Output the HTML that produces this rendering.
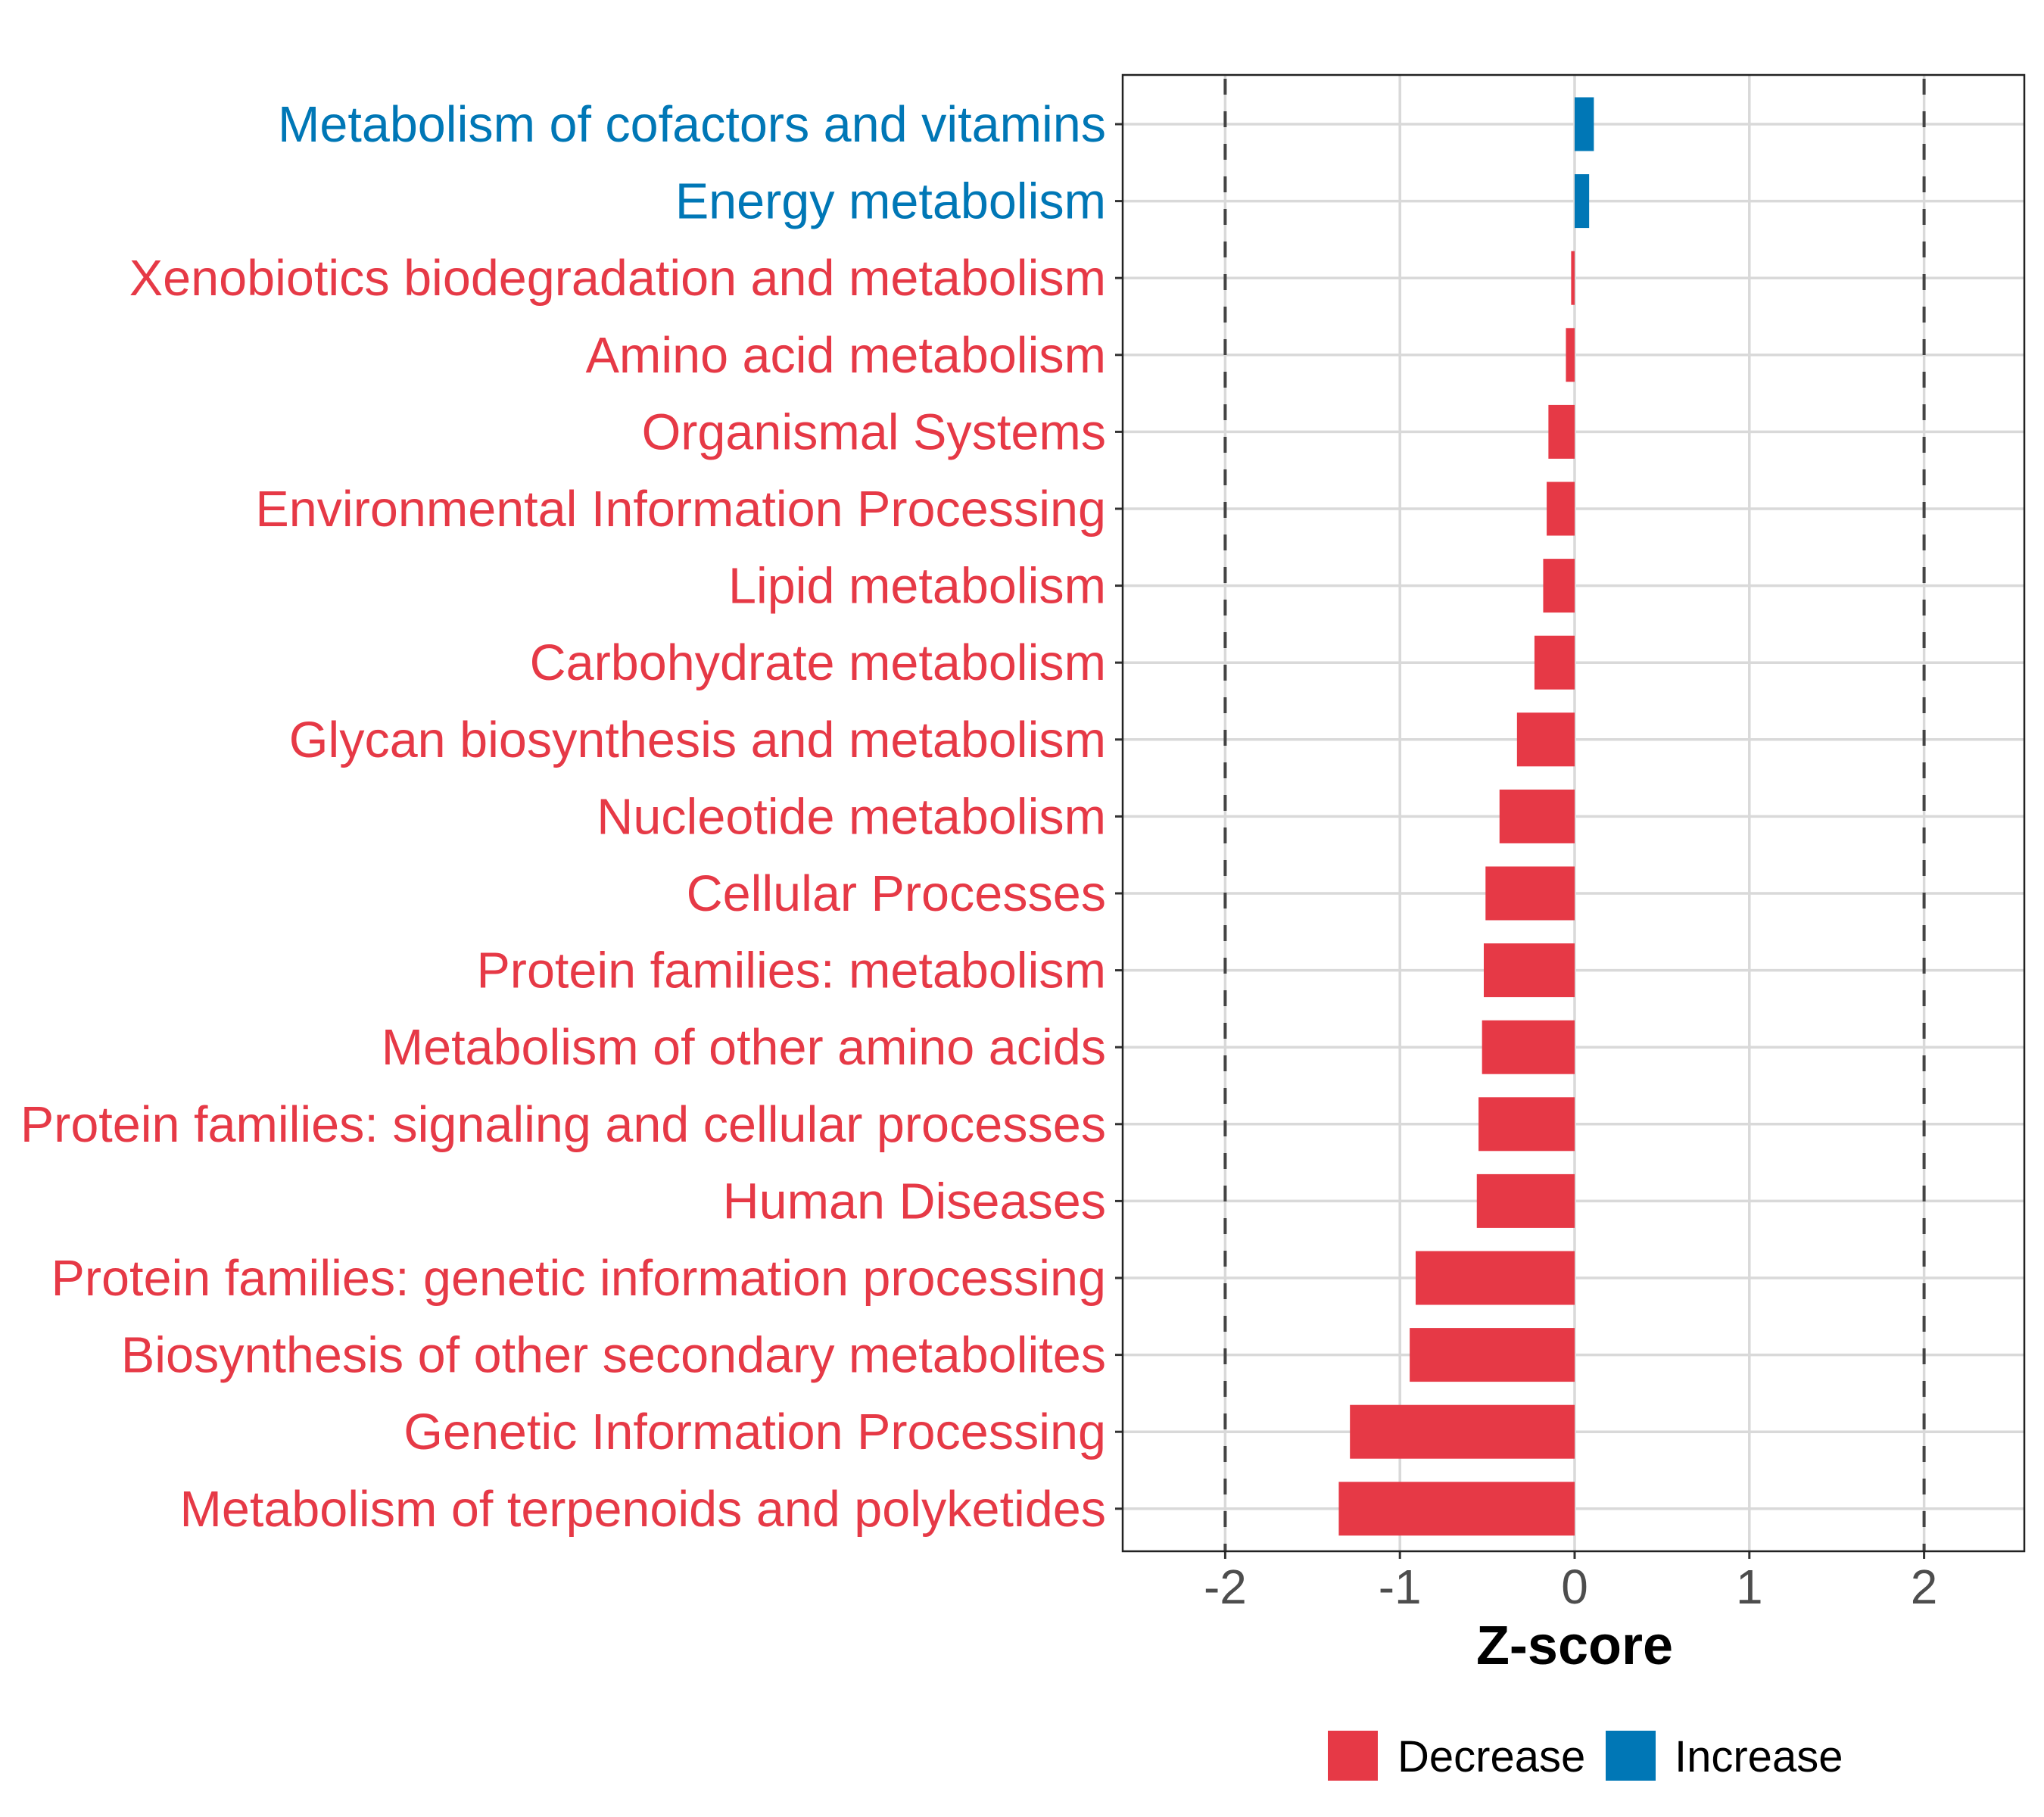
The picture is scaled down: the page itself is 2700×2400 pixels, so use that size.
<!DOCTYPE html>
<html><head><meta charset="utf-8"><style>
html,body{margin:0;padding:0;background:#fff;}
svg{display:block;font-family:"Liberation Sans",Arial,sans-serif;}
</style></head><body>
<svg id="chart" width="2700" height="2400" viewBox="0 0 2700 2400" xmlns="http://www.w3.org/2000/svg">
<rect width="2700" height="2400" fill="#fff"/>
<g id="grid"></g>
<g id="bars"></g>
<g id="ylabels"></g>
<g id="xaxis"></g>
<rect x="1483" y="99" width="1191" height="1950" fill="none" stroke="#222" stroke-width="2.5"/>
<text x="2080" y="2198" text-anchor="middle" font-size="72" font-weight="bold" fill="#000">Z-score</text>
<g>
<rect x="1754" y="2286" width="66" height="66" fill="#E63946"/>
<text x="1846" y="2340" font-size="58" fill="#000">Decrease</text>
<rect x="2121" y="2286" width="66" height="66" fill="#0077B6"/>
<text x="2212" y="2340" font-size="58" fill="#000">Increase</text>
</g>
</svg>
<script>
const categories = ["Metabolism of cofactors and vitamins","Energy metabolism","Xenobiotics biodegradation and metabolism","Amino acid metabolism","Organismal Systems","Environmental Information Processing","Lipid metabolism","Carbohydrate metabolism","Glycan biosynthesis and metabolism","Nucleotide metabolism","Cellular Processes","Protein families: metabolism","Metabolism of other amino acids","Protein families: signaling and cellular processes","Human Diseases","Protein families: genetic information processing","Biosynthesis of other secondary metabolites","Genetic Information Processing","Metabolism of terpenoids and polyketides"];
const zscores = [0.11,0.083,-0.02,-0.05,-0.15,-0.16,-0.18,-0.23,-0.33,-0.43,-0.51,-0.52,-0.53,-0.55,-0.56,-0.91,-0.944,-1.286,-1.35];
const xTicks = [-2,-1,0,1,2];
const xTickLabels = ["-2","-1","0","1","2"];
const thresholds = [-2,2];

const NS="http://www.w3.org/2000/svg";
const PX0=1483, PX1=2674, PY0=99, PY1=2049;
function xs(v){return 2080 + v*230.8;}
function ys(i){return 164 + i*101.6;}
const RED="#E63946", BLUE="#0077B6";
function mk(tag,attrs,parent){const e=document.createElementNS(NS,tag);for(const k in attrs)e.setAttribute(k,attrs[k]);parent.appendChild(e);return e;}
const grid=document.getElementById('grid'), bars=document.getElementById('bars'), yl=document.getElementById('ylabels'), xa=document.getElementById('xaxis');

xTicks.forEach((t,i)=>{
  const g=mk('line',{x1:xs(t),x2:xs(t),y1:PY0,y2:PY1,stroke:'#d9d9d9','stroke-width':3.5},grid);
  
  
  const tk=mk('line',{x1:xs(t),x2:xs(t),y1:PY1,y2:PY1+10,stroke:'#333','stroke-width':3},xa);
  
  
  const tl=mk('text',{x:xs(t),y:2118,'text-anchor':'middle','font-size':64,fill:'#4d4d4d'},xa);
  tl.textContent=xTickLabels[i];
  
  
});
categories.forEach((c,i)=>{
  const g=mk('line',{x1:PX0,x2:PX1,y1:ys(i),y2:ys(i),stroke:'#d9d9d9','stroke-width':3.5},grid);
  
  
});
thresholds.forEach(t=>{
  const d=mk('line',{x1:xs(t),x2:xs(t),y1:PY0,y2:PY1,stroke:'#444','stroke-width':4,'stroke-dasharray':'21,22','stroke-dashoffset':'-5'},grid);
  
  
});
categories.forEach((c,i)=>{
  const v=zscores[i], col=v>=0?BLUE:RED;
  const x0=Math.min(xs(0),xs(v)), w=Math.max(Math.abs(xs(v)-xs(0)),3);
  const b=mk('rect',{x:x0,y:ys(i)-35.5,width:w,height:71,fill:col},bars);
  
  
  const tk=mk('line',{x1:PX0-10,x2:PX0,y1:ys(i),y2:ys(i),stroke:'#333','stroke-width':3},yl);
  
  
  const t=mk('text',{x:1461,y:ys(i)+23,'text-anchor':'end','font-size':66.5,fill:col},yl);
  t.textContent=c;
  
  
});
</script>
</body></html>
